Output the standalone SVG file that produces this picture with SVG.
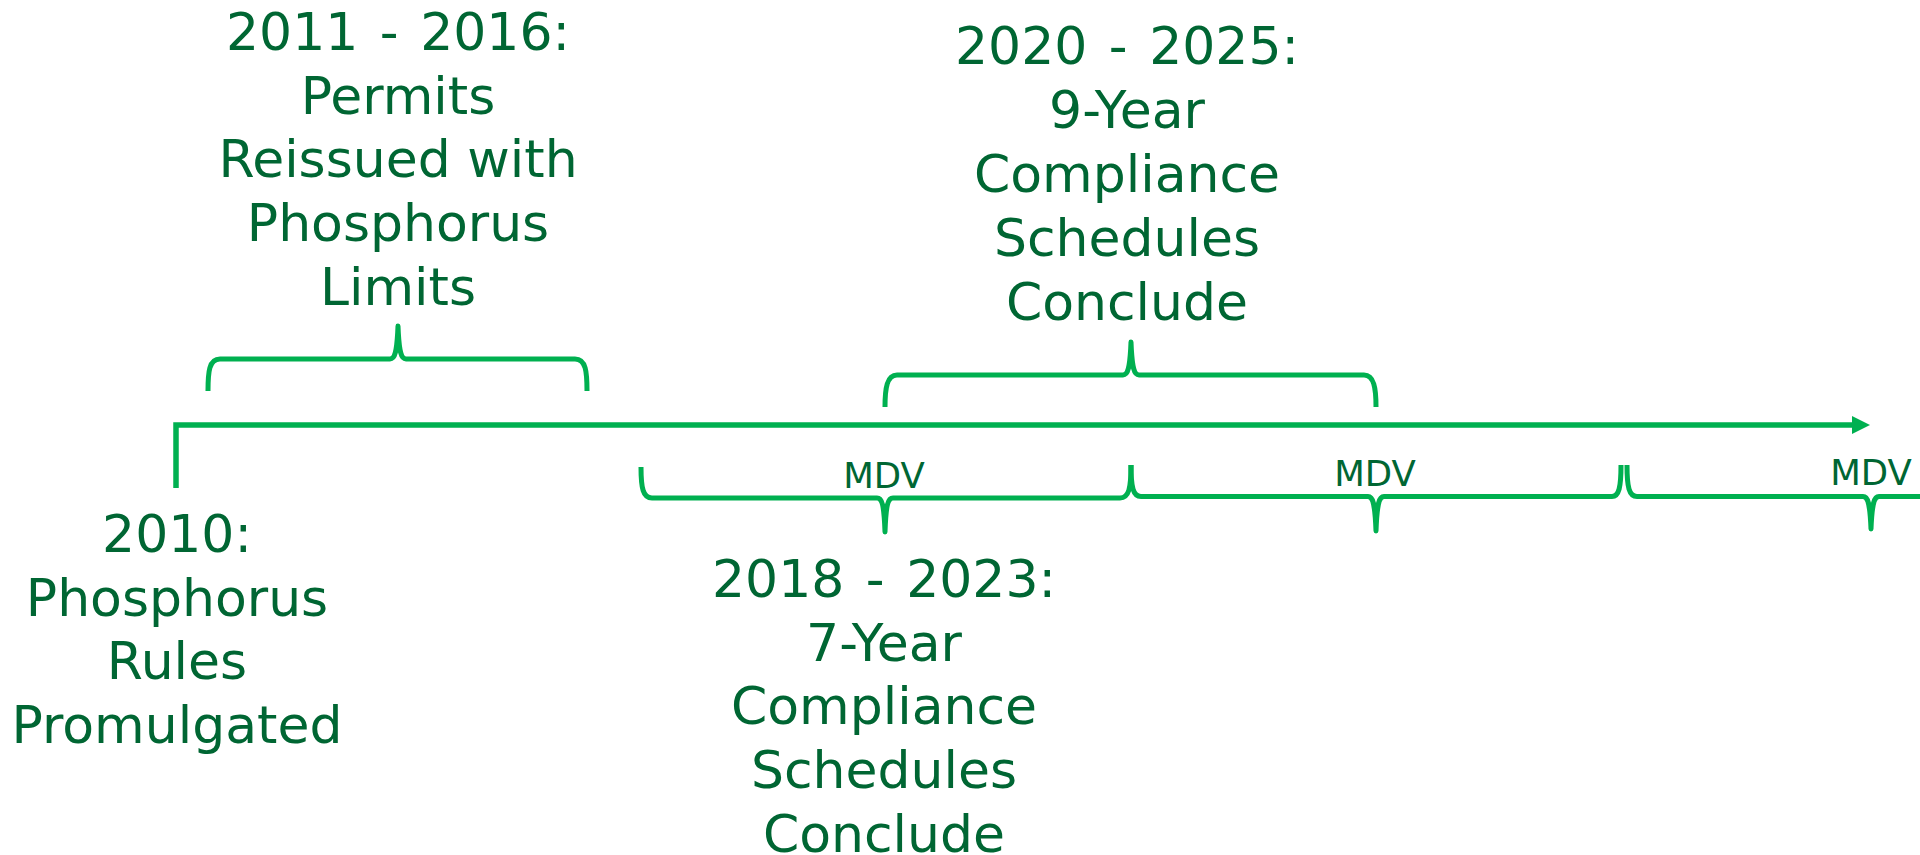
<svg xmlns="http://www.w3.org/2000/svg" width="1920" height="855" viewBox="0 0 1920 855">
<defs>
<style>
.t{font-family:"DejaVu Sans","Verdana",sans-serif;font-size:52px;fill:#006633;text-anchor:middle}
.d{word-spacing:5px}
.m{font-family:"DejaVu Sans","Verdana",sans-serif;font-size:35.5px;fill:#006633;text-anchor:middle}
.ln{fill:none;stroke:#00B050;stroke-width:5.5}
.br{fill:none;stroke:#00B050;stroke-width:5;stroke-linejoin:round}
</style>
<marker id="arr" viewBox="0 0 18 18" refX="0" refY="9" markerWidth="18" markerHeight="18" markerUnits="userSpaceOnUse" orient="auto">
<path d="M0,0 L18,9 L0,18 Z" fill="#00B050"/>
</marker>
</defs>
<rect width="1920" height="855" fill="#ffffff"/>
<g id="connectors">
<path class="ln" d="M176,488 L176,425 L1852,425" marker-end="url(#arr)"/>
</g>
<g id="event-2010">
<text class="t" x="177" y="552">2010:</text>
<text class="t" x="177" y="615.5">Phosphorus</text>
<text class="t" x="177" y="679">Rules</text>
<text class="t" x="177" y="743">Promulgated</text>
</g>
<g id="event-2011-2016">
<path class="br" d="M208,391 C208,372 209,359 220,359 L390,359 C395,359 397,352 398,326 C399,352 401,359 406,359 L575,359 C586,359 587,372 587,391"/>
<text class="t d" x="398" y="50">2011 - 2016:</text>
<text class="t" x="398" y="113.5">Permits</text>
<text class="t" x="398" y="177">Reissued with</text>
<text class="t" x="398" y="241">Phosphorus</text>
<text class="t" x="398" y="305">Limits</text>
</g>
<g id="event-2020-2025">
<path class="br" d="M885,407 C885,388 887,375 897,375 L1123,375 C1128,375 1130,368 1131,342 C1132,368 1134,375 1139,375 L1364,375 C1374,375 1376,388 1376,407"/>
<text class="t d" x="1127" y="63.5">2020 - 2025:</text>
<text class="t" x="1127" y="127.5">9-Year</text>
<text class="t" x="1127" y="191.5">Compliance</text>
<text class="t" x="1127" y="255.5">Schedules</text>
<text class="t" x="1127" y="319.5">Conclude</text>
</g>
<g id="event-2018-2023">
<path class="br" d="M641,467 C641,488 643,498 652,498 L877,498 C882,498 884,504 885,532 C886,504 888,498 893,498 L1120,498 C1129,498 1131,488 1131,465"/>
<text class="m" x="884" y="488">MDV</text>
<text class="t d" x="884" y="597">2018 - 2023:</text>
<text class="t" x="884" y="660.5">7-Year</text>
<text class="t" x="884" y="724">Compliance</text>
<text class="t" x="884" y="788">Schedules</text>
<text class="t" x="884" y="852">Conclude</text>
</g>
<g id="mdv-2">
<path class="br" d="M1131,465 C1131,487 1133,496.5 1141,496.5 L1368,496.5 C1373,496.5 1375,503 1376,531 C1377,503 1379,496.5 1384,496.5 L1612,496.5 C1619,496.5 1621,487 1621,465"/>
<text class="m" x="1375" y="486">MDV</text>
</g>
<g id="mdv-3">
<path class="br" d="M1627,465 C1627,487 1629,496.5 1637,496.5 L1863,496.5 C1868,496.5 1870,503 1871,529 C1872,503 1874,496.5 1879,496.5 L1925,496.5"/>
<text class="m" x="1871" y="485">MDV</text>
</g>
</svg>
